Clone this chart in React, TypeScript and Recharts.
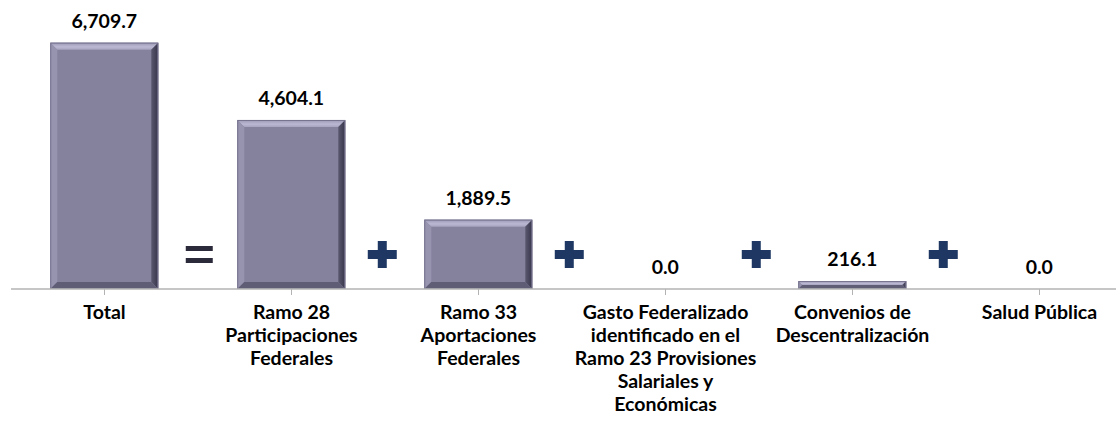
import React from 'react';
import { BarChart, Bar, XAxis, YAxis, LabelList } from 'recharts';

const categories = [
  'Total',
  'Ramo 28\nParticipaciones\nFederales',
  'Ramo 33\nAportaciones\nFederales',
  'Gasto Federalizado\nidentificado en el\nRamo 23 Provisiones\nSalariales y\nEconómicas',
  'Convenios de\nDescentralización',
  'Salud Pública',
];
const values = [6709.7, 4604.1, 1889.5, 0.0, 216.1, 0.0];
const valueLabels = ['6,709.7', '4,604.1', '1,889.5', '0.0', '216.1', '0.0'];
const operators = ['', '=', '+', '+', '+', '+'];

const data = categories.map((c, i) => ({ name: c, value: values[i], label: valueLabels[i], op: operators[i] }));

const FONT = 'Lato, "Open Sans", sans-serif';
const CHART_W = 1134;
const MARGIN_L = 11;
const MARGIN_R = 1;
const BAND = (CHART_W - MARGIN_L - MARGIN_R) / categories.length;

const BevelBar = (props: any) => {
  const { x, y, width, height } = props;
  if (!height || height <= 0) return null;
  const b = Math.min(7, height / 2, width / 2);
  const x2 = x + width;
  const y2 = y + height;
  return (
    <g>
      <rect x={x} y={y} width={width} height={height} fill="#85829e" />
      <polygon points={`${x},${y} ${x2},${y} ${x2 - b},${y + b} ${x + b},${y + b}`} fill="url(#bevTop)" />
      <polygon points={`${x},${y} ${x + b},${y + b} ${x + b},${y2 - b} ${x},${y2}`} fill="#9794b0" />
      <polygon points={`${x2},${y} ${x2},${y2} ${x2 - b},${y2 - b} ${x2 - b},${y + b}`} fill="url(#bevRight)" />
      <polygon points={`${x},${y2} ${x + b},${y2 - b} ${x2 - b},${y2 - b} ${x2},${y2}`} fill="#5f5d76" />
      <rect x={x + 0.5} y={y + 0.5} width={width - 1} height={height - 1} fill="none" stroke="#76738f" strokeWidth={1} />
    </g>
  );
};

const ValueLabel = (props: any) => {
  const { x, y, width, value } = props;
  return (
    <text x={x + width / 2} y={y - 15} textAnchor="middle" fontFamily={FONT} fontWeight={700} fontSize={19.5} fill="#000">
      {value}
    </text>
  );
};

const OperatorLabel = (props: any) => {
  const { x, y, width, height, value } = props;
  if (!value) return null;
  const cx = x + width / 2 - BAND / 2;
  const base = y + height;
  const cy = base - 35;
  if (value === '=') {
    return (
      <g>
        <rect x={cx - 12} y={cy - 8} width={27} height={5} fill="#2b2a3a" />
        <rect x={cx - 12} y={cy + 4} width={27} height={5} fill="#2b2a3a" />
      </g>
    );
  }
  return (
    <g>
      <rect x={cx - 17} y={cy - 4} width={29} height={9} fill="#1f3863" />
      <rect x={cx - 7} y={cy - 13} width={9} height={27} fill="#1f3863" />
    </g>
  );
};

const CategoryTick = (props: any) => {
  const { x, y, payload } = props;
  const lines = String(payload.value).split('\n');
  return (
    <g>
      {lines.map((l: string, i: number) => (
        <text key={i} x={x} y={y + 22 + i * 23} textAnchor="middle" fontFamily={FONT} fontWeight={700} fontSize={19.5} fill="#000">
          {l}
        </text>
      ))}
    </g>
  );
};

export default function App() {
  return (
    <div style={{ position: 'absolute', left: 0, top: 0, width: 1116, height: 423, overflow: 'hidden', background: '#fff' }}>
      <BarChart
        width={CHART_W}
        height={423}
        data={data}
        margin={{ top: 32, right: MARGIN_R, bottom: 0, left: MARGIN_L }}
        barCategoryGap="21%"
      >
        <defs>
          <linearGradient id="bevTop" x1="0" y1="0" x2="0" y2="1">
            <stop offset="0%" stopColor="#9b98b5" />
            <stop offset="60%" stopColor="#bbb8d3" />
            <stop offset="100%" stopColor="#a7a4c0" />
          </linearGradient>
          <linearGradient id="bevRight" x1="0" y1="0" x2="1" y2="0">
            <stop offset="0%" stopColor="#5a586f" />
            <stop offset="100%" stopColor="#36354a" />
          </linearGradient>
        </defs>
        <XAxis
          dataKey="name"
          interval={0}
          height={134}
          axisLine={{ stroke: '#b3b3b3', strokeWidth: 1.5 }}
          tickLine={{ stroke: '#b3b3b3' }}
          tickSize={6}
          tick={<CategoryTick />}
        />
        <YAxis hide domain={[0, 7000]} />
        <Bar dataKey="value" shape={<BevelBar />} isAnimationActive={false}>
          <LabelList dataKey="label" content={<ValueLabel />} />
          <LabelList dataKey="op" content={<OperatorLabel />} />
        </Bar>
      </BarChart>
    </div>
  );
}
